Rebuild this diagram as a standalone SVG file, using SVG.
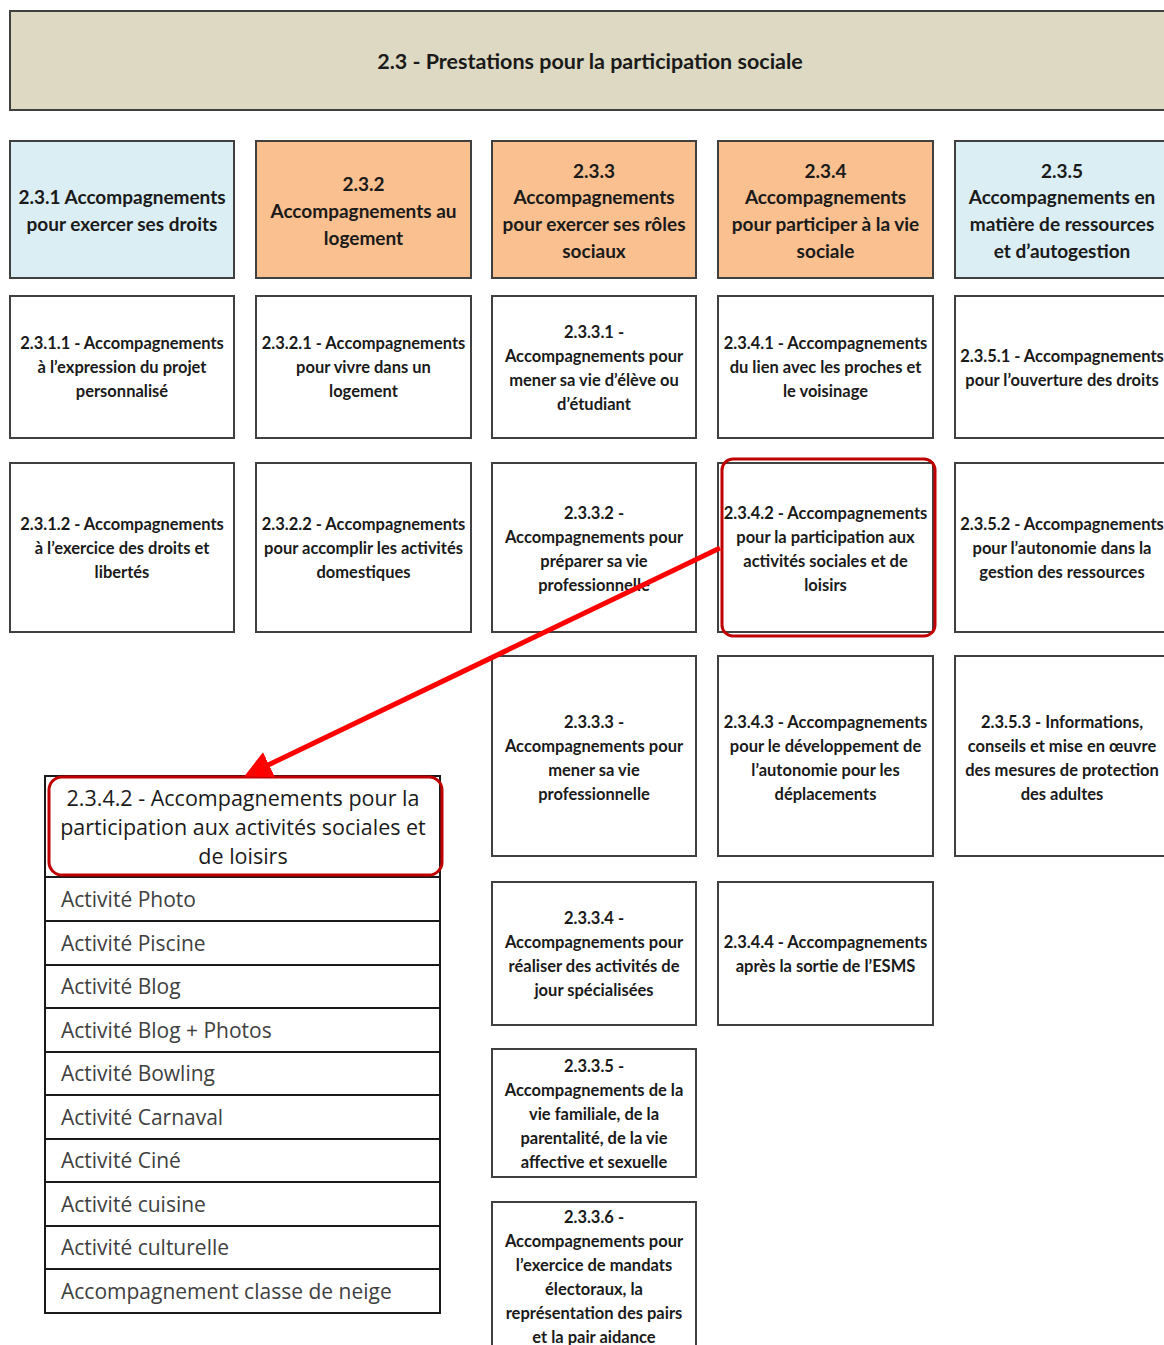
<svg xmlns="http://www.w3.org/2000/svg" width="1164" height="1345" viewBox="0 0 1164 1345">
<defs>
<style>
.box{stroke:#404040;stroke-width:2}
.w{fill:#ffffff}
.blue{fill:#dbeef4}
.orange{fill:#fac08f}
.t{font-family:"Lato","Liberation Sans",sans-serif;font-weight:bold;fill:#1a1a1a;text-anchor:middle}
.t1{font-size:19px}
.t2{font-size:16.5px}
.li{font-family:"Open Sans","Liberation Sans",sans-serif;font-size:21px;fill:#404040}
.hl{fill:none;stroke:#c00000;stroke-width:3}
</style>
<marker id="ah" viewBox="0 0 10 10" refX="2" refY="5" markerWidth="5.5" markerHeight="5.5" orient="auto" markerUnits="strokeWidth">
<path d="M0,0 L10,5 L0,10 z" fill="#ff0000"/>
</marker>
</defs>
<rect width="1164" height="1345" fill="#ffffff"/>

<g id="n-2.3">
<rect class="box" x="10" y="11" width="1160" height="99" fill="#ddd9c3"/>
<text class="t" x="590" y="69" font-size="21.5">2.3 - Prestations pour la participation sociale</text>
</g>

<g id="n-2.3.1">
<rect class="box blue" x="10" y="141" width="224" height="137"/>
<text class="t t1" x="122" y="204">2.3.1 Accompagnements</text>
<text class="t t1" x="122" y="231">pour exercer ses droits</text>
</g>
<g id="n-2.3.2">
<rect class="box orange" x="256" y="141" width="215" height="137"/>
<text class="t t1" x="363.5" y="191">2.3.2</text>
<text class="t t1" x="363.5" y="218">Accompagnements au</text>
<text class="t t1" x="363.5" y="245">logement</text>
</g>
<g id="n-2.3.3">
<rect class="box orange" x="492" y="141" width="204" height="137"/>
<text class="t t1" x="594" y="178">2.3.3</text>
<text class="t t1" x="594" y="204">Accompagnements</text>
<text class="t t1" x="594" y="231">pour exercer ses rôles</text>
<text class="t t1" x="594" y="258">sociaux</text>
</g>
<g id="n-2.3.4">
<rect class="box orange" x="718" y="141" width="215" height="137"/>
<text class="t t1" x="825.5" y="178">2.3.4</text>
<text class="t t1" x="825.5" y="204">Accompagnements</text>
<text class="t t1" x="825.5" y="231">pour participer à la vie</text>
<text class="t t1" x="825.5" y="258">sociale</text>
</g>
<g id="n-2.3.5">
<rect class="box blue" x="955" y="141" width="215" height="137"/>
<text class="t t1" x="1062" y="178">2.3.5</text>
<text class="t t1" x="1062" y="204">Accompagnements en</text>
<text class="t t1" x="1062" y="231">matière de ressources</text>
<text class="t t1" x="1062" y="258">et d’autogestion</text>
</g>

<g id="n-2.3.1.1">
<rect class="box w" x="10" y="296" width="224" height="142"/>
<text class="t t2" x="122" y="349">2.3.1.1 - Accompagnements</text>
<text class="t t2" x="122" y="373">à l’expression du projet</text>
<text class="t t2" x="122" y="397">personnalisé</text>
</g>
<g id="n-2.3.2.1">
<rect class="box w" x="256" y="296" width="215" height="142"/>
<text class="t t2" x="363.5" y="349">2.3.2.1 - Accompagnements</text>
<text class="t t2" x="363.5" y="373">pour vivre dans un</text>
<text class="t t2" x="363.5" y="397">logement</text>
</g>
<g id="n-2.3.3.1">
<rect class="box w" x="492" y="296" width="204" height="142"/>
<text class="t t2" x="594" y="338">2.3.3.1 -</text>
<text class="t t2" x="594" y="362">Accompagnements pour</text>
<text class="t t2" x="594" y="386">mener sa vie d’élève ou</text>
<text class="t t2" x="594" y="410">d’étudiant</text>
</g>
<g id="n-2.3.4.1">
<rect class="box w" x="718" y="296" width="215" height="142"/>
<text class="t t2" x="825.5" y="349">2.3.4.1 - Accompagnements</text>
<text class="t t2" x="825.5" y="373">du lien avec les proches et</text>
<text class="t t2" x="825.5" y="397">le voisinage</text>
</g>
<g id="n-2.3.5.1">
<rect class="box w" x="955" y="296" width="215" height="142"/>
<text class="t t2" x="1062" y="362">2.3.5.1 - Accompagnements</text>
<text class="t t2" x="1062" y="386">pour l’ouverture des droits</text>
</g>

<g id="n-2.3.1.2">
<rect class="box w" x="10" y="463" width="224" height="169"/>
<text class="t t2" x="122" y="530">2.3.1.2 - Accompagnements</text>
<text class="t t2" x="122" y="554">à l’exercice des droits et</text>
<text class="t t2" x="122" y="578">libertés</text>
</g>
<g id="n-2.3.2.2">
<rect class="box w" x="256" y="463" width="215" height="169"/>
<text class="t t2" x="363.5" y="530">2.3.2.2 - Accompagnements</text>
<text class="t t2" x="363.5" y="554">pour accomplir les activités</text>
<text class="t t2" x="363.5" y="578">domestiques</text>
</g>
<g id="n-2.3.3.2">
<rect class="box w" x="492" y="463" width="204" height="169"/>
<text class="t t2" x="594" y="519">2.3.3.2 -</text>
<text class="t t2" x="594" y="543">Accompagnements pour</text>
<text class="t t2" x="594" y="567">préparer sa vie</text>
<text class="t t2" x="594" y="591">professionnelle</text>
</g>
<g id="n-2.3.4.2">
<rect class="box w" x="718" y="463" width="215" height="169"/>
<text class="t t2" x="825.5" y="519">2.3.4.2 - Accompagnements</text>
<text class="t t2" x="825.5" y="543">pour la participation aux</text>
<text class="t t2" x="825.5" y="567">activités sociales et de</text>
<text class="t t2" x="825.5" y="591">loisirs</text>
<rect class="hl" x="722" y="459" width="213" height="177" rx="11"/>
</g>
<g id="n-2.3.5.2">
<rect class="box w" x="955" y="463" width="215" height="169"/>
<text class="t t2" x="1062" y="530">2.3.5.2 - Accompagnements</text>
<text class="t t2" x="1062" y="554">pour l’autonomie dans la</text>
<text class="t t2" x="1062" y="578">gestion des ressources</text>
</g>

<g id="n-2.3.3.3">
<rect class="box w" x="492" y="656" width="204" height="200"/>
<text class="t t2" x="594" y="728">2.3.3.3 -</text>
<text class="t t2" x="594" y="752">Accompagnements pour</text>
<text class="t t2" x="594" y="776">mener sa vie</text>
<text class="t t2" x="594" y="800">professionnelle</text>
</g>
<g id="n-2.3.4.3">
<rect class="box w" x="718" y="656" width="215" height="200"/>
<text class="t t2" x="825.5" y="728">2.3.4.3 - Accompagnements</text>
<text class="t t2" x="825.5" y="752">pour le développement de</text>
<text class="t t2" x="825.5" y="776">l’autonomie pour  les</text>
<text class="t t2" x="825.5" y="800">déplacements</text>
</g>
<g id="n-2.3.5.3">
<rect class="box w" x="955" y="656" width="215" height="200"/>
<text class="t t2" x="1062" y="728">2.3.5.3 - Informations,</text>
<text class="t t2" x="1062" y="752">conseils et mise en œuvre</text>
<text class="t t2" x="1062" y="776">des mesures de protection</text>
<text class="t t2" x="1062" y="800">des adultes</text>
</g>

<g id="n-2.3.3.4">
<rect class="box w" x="492" y="882" width="204" height="143"/>
<text class="t t2" x="594" y="924">2.3.3.4 -</text>
<text class="t t2" x="594" y="948">Accompagnements pour</text>
<text class="t t2" x="594" y="972">réaliser des activités de</text>
<text class="t t2" x="594" y="996">jour spécialisées</text>
</g>
<g id="n-2.3.4.4">
<rect class="box w" x="718" y="882" width="215" height="143"/>
<text class="t t2" x="825.5" y="948">2.3.4.4 - Accompagnements</text>
<text class="t t2" x="825.5" y="972">après la sortie de l’ESMS</text>
</g>

<g id="n-2.3.3.5">
<rect class="box w" x="492" y="1049" width="204" height="128"/>
<text class="t t2" x="594" y="1072">2.3.3.5 -</text>
<text class="t t2" x="594" y="1096">Accompagnements de la</text>
<text class="t t2" x="594" y="1120">vie familiale, de la</text>
<text class="t t2" x="594" y="1144">parentalité, de la vie</text>
<text class="t t2" x="594" y="1168">affective et sexuelle</text>
</g>
<g id="n-2.3.3.6">
<rect class="box w" x="492" y="1202" width="204" height="160"/>
<text class="t t2" x="594" y="1223">2.3.3.6 -</text>
<text class="t t2" x="594" y="1247">Accompagnements pour</text>
<text class="t t2" x="594" y="1271">l’exercice de mandats</text>
<text class="t t2" x="594" y="1295">électoraux, la</text>
<text class="t t2" x="594" y="1319">représentation des pairs</text>
<text class="t t2" x="594" y="1343">et la pair aidance</text>
</g>

<g id="n-list">
<rect x="45" y="776" width="395" height="537" fill="#ffffff" stroke="#1a1a1a" stroke-width="2"/>
<g stroke="#1a1a1a" stroke-width="2">
<line x1="45" y1="877" x2="440" y2="877"/>
<line x1="45" y1="921" x2="440" y2="921"/>
<line x1="45" y1="965" x2="440" y2="965"/>
<line x1="45" y1="1008" x2="440" y2="1008"/>
<line x1="45" y1="1052" x2="440" y2="1052"/>
<line x1="45" y1="1095" x2="440" y2="1095"/>
<line x1="45" y1="1139" x2="440" y2="1139"/>
<line x1="45" y1="1182" x2="440" y2="1182"/>
<line x1="45" y1="1226" x2="440" y2="1226"/>
<line x1="45" y1="1269" x2="440" y2="1269"/>
</g>
<text x="243" y="806" font-family="Open Sans, Liberation Sans, sans-serif" font-size="21.5" fill="#1a1a1a" text-anchor="middle">2.3.4.2 - Accompagnements pour la</text>
<text x="243" y="835" font-family="Open Sans, Liberation Sans, sans-serif" font-size="21.5" fill="#1a1a1a" text-anchor="middle">participation aux activités sociales et</text>
<text x="243" y="864" font-family="Open Sans, Liberation Sans, sans-serif" font-size="21.5" fill="#1a1a1a" text-anchor="middle">de loisirs</text>
<rect class="hl" x="49" y="777" width="393" height="98" rx="13"/>
<text class="li" x="61" y="907">Activité Photo</text>
<text class="li" x="61" y="951">Activité Piscine</text>
<text class="li" x="61" y="994">Activité Blog</text>
<text class="li" x="61" y="1038">Activité Blog + Photos</text>
<text class="li" x="61" y="1081">Activité Bowling</text>
<text class="li" x="61" y="1125">Activité Carnaval</text>
<text class="li" x="61" y="1168">Activité Ciné</text>
<text class="li" x="61" y="1212">Activité cuisine</text>
<text class="li" x="61" y="1255">Activité culturelle</text>
<text class="li" x="61" y="1299">Accompagnement classe de neige</text>
</g>

<g id="connectors">
<line x1="720" y1="548" x2="264" y2="767" stroke="#ff0000" stroke-width="5" marker-end="url(#ah)"/>
</g>
</svg>
